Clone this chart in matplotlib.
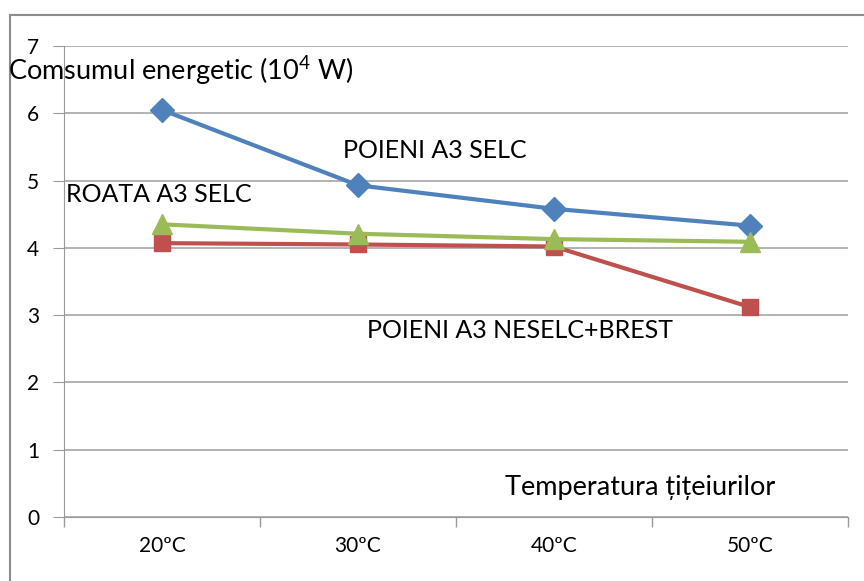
import matplotlib.pyplot as plt
from matplotlib.lines import Line2D
import numpy as np

plt.rcParams['font.family'] = ['Lato', 'DejaVu Sans']
plt.rcParams['mathtext.fontset'] = 'custom'
plt.rcParams['mathtext.rm'] = 'Lato'

categories = ['20ºC', '30ºC', '40ºC', '50ºC']
poieni_selc = [6.05, 4.93, 4.58, 4.33]
poieni_neselc_brest = [4.07, 4.05, 4.02, 3.12]
roata_selc = [4.35, 4.21, 4.13, 4.09]

fig = plt.figure(figsize=(8.64, 5.81), dpi=100)
ax = fig.add_axes([64 / 864, 1 - 517 / 581, (848 - 64) / 864, (517 - 46) / 581])

x = np.arange(len(categories))
ax.plot(x, poieni_selc, color='#4F81BD', lw=3, marker='D', ms=12, zorder=3)
ax.plot(x, poieni_neselc_brest, color='#C0504D', lw=3, marker='s', ms=12, zorder=3)
ax.plot(x, roata_selc, color='#9BBB59', lw=3, marker='^', ms=14, zorder=4)

ax.set_xlim(-0.5, 3.5)
ax.set_ylim(0, 7)
ax.set_yticks(range(0, 8))
ax.set_xticks(x)
ax.set_xticklabels(categories, fontsize=15)
ax.set_xticks(np.arange(-0.5, 4, 1), minor=True)
ax.tick_params(axis='x', which='major', length=0, pad=14)
ax.tick_params(axis='x', which='minor', length=7, color='#999999', width=1)
ax.tick_params(axis='y', length=8, color='#999999', labelsize=15, pad=10)
ax.yaxis.grid(True, color='#a6a6a6', lw=1.2)
ax.set_axisbelow(True)
for side in ['top', 'right']:
    ax.spines[side].set_visible(False)
for side in ['left', 'bottom']:
    ax.spines[side].set_color('#999999')

# series labels and axis captions placed inside the chart area
fig.text(8 / 864, 1 - 70 / 581, 'Comsumul energetic (10$^4$ W)', fontsize=19.5, va='center')
fig.text(343 / 864, 1 - 150 / 581, 'POIENI A3 SELC', fontsize=18, va='center')
fig.text(66 / 864, 1 - 195 / 581, 'ROATA A3 SELC', fontsize=18, va='center')
fig.text(367 / 864, 1 - 330 / 581, 'POIENI A3 NESELC+BREST', fontsize=18, va='center')
fig.text(505 / 864, 1 - 488 / 581, 'Temperatura țițeiurilor', fontsize=19.5, va='center')

# outer chart frame
fig.add_artist(Line2D([10 / 864, 10 / 864], [0, 1 - 15 / 581], color='#8c8c8c', lw=1.5))
fig.add_artist(Line2D([10 / 864, 1], [1 - 15 / 581, 1 - 15 / 581], color='#8c8c8c', lw=1.5))

fig.savefig('out.png', dpi=100)
